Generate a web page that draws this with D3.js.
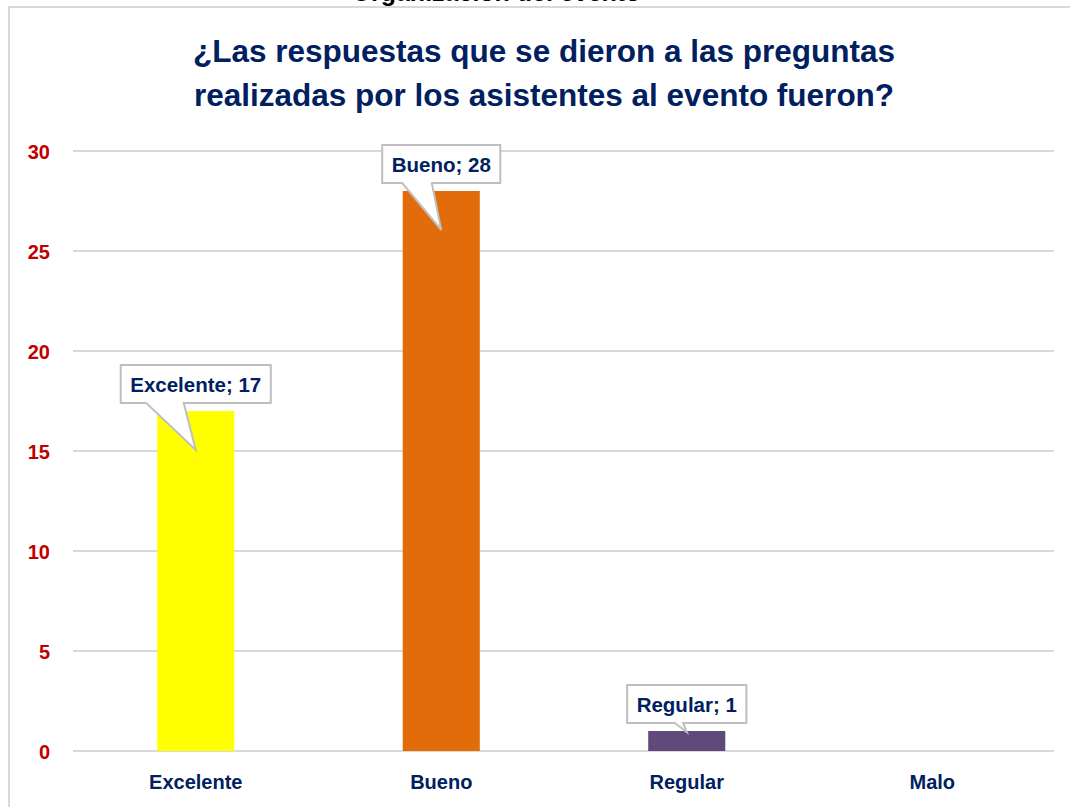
<!DOCTYPE html>
<html>
<head>
<meta charset="utf-8">
<script src="https://cdn.jsdelivr.net/npm/d3@7"></script>
<style>
  html, body { margin: 0; padding: 0; background: #ffffff; }
  svg { display: block; }
  text { font-family: "Liberation Sans", Arial, sans-serif; font-weight: bold; }
</style>
</head>
<body>
<svg id="chart" width="1070" height="807"></svg>
<script>
// ---- data ----
const categories = ["Excelente", "Bueno", "Regular", "Malo"];
const values = [17, 28, 1, 0];
const barColors = ["#FFFF00", "#E36C0A", "#604A7B", "#4F81BD"];
const yTicks = [0, 5, 10, 15, 20, 25, 30];
const titleLines = ["¿Las respuestas que se dieron a las preguntas", "realizadas por los asistentes al evento fueron?"];
const headerText = "Organización del evento";

// ---- layout ----
const W = 1070, H = 807;
const plot = { left: 73, right: 1055, top: 151, bottom: 751 };
const navy = "#002060";
const grid = "#D9D9D9";

const svg = d3.select("#chart");

// chart frame (left + top borders visible)
svg.append("path")
  .attr("d", `M9,${H} L9,7 L${W},7`)
  .attr("fill", "none").attr("stroke", grid).attr("stroke-width", 2);

// header text of the page above the chart, cut off by the top edge as in the reference
svg.append("text")
  .attr("x", 496).attr("y", 1)
  .attr("text-anchor", "middle")
  .attr("font-size", 25)
  .attr("fill", "#000000")
  .text(headerText);

// title
svg.append("g").selectAll("text").data(titleLines).join("text")
  .attr("x", 544)
  .attr("y", (d, i) => 62 + i * 44)
  .attr("text-anchor", "middle")
  .attr("font-size", 31.5)
  .attr("fill", navy)
  .text(d => d);

// scales
const x = d3.scaleBand()
  .domain(categories)
  .range([plot.left, plot.right])
  .paddingInner(0.686)
  .paddingOuter(0.343);

const y = d3.scaleLinear()
  .domain([0, 30])
  .range([plot.bottom, plot.top]);

// gridlines
svg.append("g").selectAll("line").data(yTicks).join("line")
  .attr("x1", plot.left).attr("x2", 1054)
  .attr("y1", d => y(d)).attr("y2", d => y(d))
  .attr("stroke", grid).attr("stroke-width", 2);

// y axis labels
const yAxis = d3.axisLeft(y).tickValues(yTicks).tickSize(0).tickPadding(0).tickFormat(d3.format("d"));
const yg = svg.append("g").attr("transform", `translate(50,0)`).call(yAxis);
yg.select(".domain").remove();
yg.selectAll("text")
  .attr("fill", "#C00000")
  .attr("font-size", 20)
  .attr("font-family", "Liberation Sans, Arial, sans-serif")
  .attr("dy", "0.36em");

// bars
svg.append("g").selectAll("rect").data(values).join("rect")
  .attr("x", (d, i) => x(categories[i]))
  .attr("y", d => y(d))
  .attr("width", x.bandwidth())
  .attr("height", d => y(0) - y(d))
  .attr("fill", (d, i) => barColors[i]);

// x axis labels
const xAxis = d3.axisBottom(x).tickSize(0).tickPadding(0);
const xg = svg.append("g").attr("transform", `translate(0,${plot.bottom})`).call(xAxis);
xg.select(".domain").remove();
xg.selectAll("text")
  .attr("fill", navy)
  .attr("font-size", 20)
  .attr("font-family", "Liberation Sans, Arial, sans-serif")
  .attr("y", 38)
  .attr("dy", 0);

// data callouts
const callouts = svg.append("g");
values.forEach((v, i) => {
  if (v === 0) return;
  const cx = x(categories[i]) + x.bandwidth() / 2;
  const top = y(v);
  const barH = y(0) - top;
  const g = callouts.append("g");
  const path = g.append("path");
  const t = g.append("text")
    .attr("x", cx)
    .attr("text-anchor", "middle")
    .attr("font-size", 20.5)
    .attr("fill", navy)
    .text(`${categories[i]}; ${v}`);
  const tw = t.node().getComputedTextLength();
  const bw = tw + 19, bh = 38;
  const bx = cx - bw / 2, by2 = top - 8, by1 = by2 - bh;
  t.attr("y", by1 + bh / 2 + 7.5);
  let b1, b2, tipY;
  if (barH > 100) { b1 = bx + 0.17 * bw; b2 = bx + 0.42 * bw; tipY = top + 39; }
  else { b1 = bx + 0.40 * bw; b2 = bx + 0.47 * bw; tipY = top + 1; }
  const d = `M${bx},${by1} L${bx + bw},${by1} L${bx + bw},${by2} L${b2},${by2} L${cx},${tipY} L${b1},${by2} L${bx},${by2} Z`;
  path.attr("d", d).attr("fill", "#FFFFFF").attr("stroke", "#BFBFBF").attr("stroke-width", 2).attr("stroke-linejoin", "miter");
});
</script>
</body>
</html>
